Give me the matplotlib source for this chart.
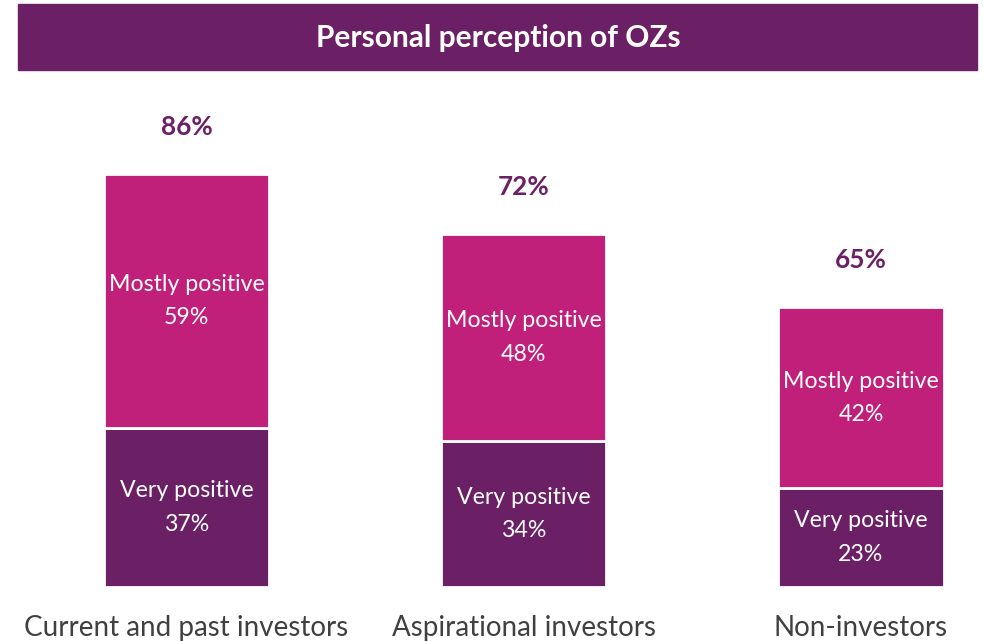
import numpy as np
import matplotlib.pyplot as plt
from matplotlib.patches import Rectangle

plt.rcParams['font.family'] = ['Lato', 'DejaVu Sans']

# data
categories = ['Current and past investors', 'Aspirational investors', 'Non-investors']
very_positive = [37, 34, 23]
mostly_positive = [59, 48, 42]
totals = ['86%', '72%', '65%']

dark = '#6B2066'
magenta = '#C0207A'

fig = plt.figure(figsize=(9.83, 6.42), dpi=100)

# title banner
fig.patches.append(Rectangle((18 / 983, 1 - 70 / 642), 959 / 983, 66 / 642,
                             transform=fig.transFigure, color=dark, zorder=0))
fig.text(498 / 983, 1 - 38 / 642, 'Personal perception of OZs', color='white',
         fontsize=21.5, fontweight='bold', ha='center', va='center')

ax = fig.add_axes([18 / 983, 55 / 642, 959 / 983, 507 / 642])
x = np.arange(len(categories))
w = 0.49
ax.bar(x, very_positive, width=w, color=dark, edgecolor='white', linewidth=2)
ax.bar(x, mostly_positive, width=w, bottom=very_positive, color=magenta,
       edgecolor='white', linewidth=2)

for i in range(len(categories)):
    vp, mp = very_positive[i], mostly_positive[i]
    ax.text(x[i], vp / 2, 'Very positive\n%d%%' % vp, color='white', fontsize=16.7,
            ha='center', va='center', linespacing=1.72)
    ax.text(x[i], vp + mp / 2, 'Mostly positive\n%d%%' % mp, color='white', fontsize=16.7,
            ha='center', va='center', linespacing=1.72)
    ax.text(x[i], vp + mp + 11, totals[i], color=dark, fontsize=18.8,
            fontweight='bold', ha='center', va='center')

ax.set_xlim(-0.4996, 2.344)
ax.set_ylim(0, 117.9)
ax.set_xticks(x)
ax.set_xticklabels(categories, fontsize=20, color='#404040')
ax.tick_params(axis='x', length=0, pad=20)
ax.set_yticks([])
for s in ax.spines.values():
    s.set_visible(False)

fig.savefig('out.png', dpi=100)
